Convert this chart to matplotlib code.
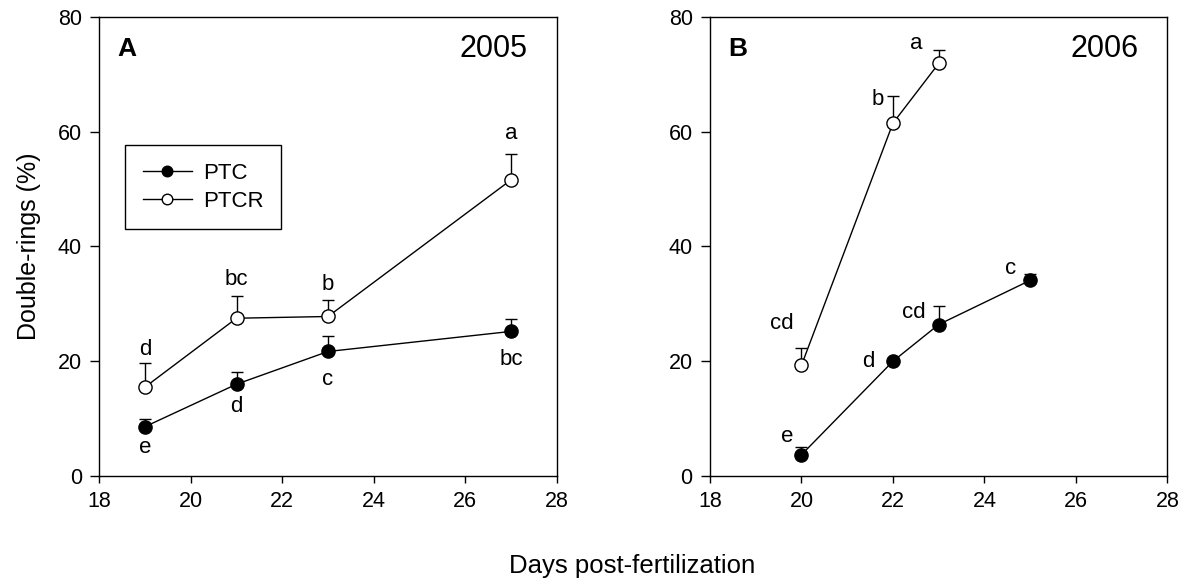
import matplotlib
matplotlib.use("Agg")
import matplotlib.pyplot as plt
import numpy as np

plt.rcParams['font.family'] = ['Liberation Sans', 'DejaVu Sans']

# 2005 data
days_2005 = [19, 21, 23, 27]
ptc_2005 = [8.6, 16.0, 21.7, 25.2]
ptc_err_2005 = [1.3, 2.1, 2.7, 2.1]
ptcr_2005 = [15.5, 27.5, 27.8, 51.6]
ptcr_err_2005 = [4.2, 3.9, 2.9, 4.6]
ptc_letters_2005 = ['e', 'd', 'c', 'bc']
ptcr_letters_2005 = ['d', 'bc', 'b', 'a']

# 2006 data
days_ptc_2006 = [20, 22, 23, 25]
ptc_2006 = [3.7, 20.0, 26.4, 34.1]
ptc_err_2006 = [1.3, 0.6, 3.2, 1.1]
days_ptcr_2006 = [20, 22, 23]
ptcr_2006 = [19.3, 61.5, 71.9]
ptcr_err_2006 = [3.0, 4.7, 2.4]
ptc_letters_2006 = ['e', 'd', 'cd', 'c']
ptcr_letters_2006 = ['cd', 'b', 'a']

W, H = 1188, 582
fig = plt.figure(figsize=(W / 100, H / 100), dpi=100)
axA = fig.add_axes([99.3 / W, 1 - 476 / H, 457.4 / W, 459 / H])
axB = fig.add_axes([710 / W, 1 - 476 / H, 457.4 / W, 459 / H])


def draw_series(ax, x, y, err, filled, label=None):
    x = np.asarray(x)
    y = np.asarray(y)
    ax.errorbar(x, y, yerr=[np.zeros_like(y), err], fmt='none', ecolor='black',
                elinewidth=1.0, capsize=4.5, capthick=1.0)
    ax.plot(x, y, '-o', color='black', lw=1.0, markersize=9.5,
            markeredgecolor='black', markeredgewidth=1.0,
            markerfacecolor='black' if filled else 'white', label=label)


def put_letters(ax, x, y, letters, offsets):
    for xi, yi, t, (dx, dy) in zip(x, y, letters, offsets):
        ax.annotate(t, (xi, yi), xytext=(dx, dy), textcoords='offset pixels',
                    ha='center', va='center', fontsize=16)


# Panel A
draw_series(axA, days_2005, ptc_2005, ptc_err_2005, True, 'PTC')
draw_series(axA, days_2005, ptcr_2005, ptcr_err_2005, False, 'PTCR')
put_letters(axA, days_2005, np.add(ptcr_2005, ptcr_err_2005), ptcr_letters_2005,
            [(0, 13), (0, 16), (0, 15), (0, 20)])
put_letters(axA, days_2005, ptc_2005, ptc_letters_2005,
            [(0, -21), (0, -22), (0, -28), (0, -28)])

# Panel B
draw_series(axB, days_ptc_2006, ptc_2006, ptc_err_2006, True)
draw_series(axB, days_ptcr_2006, ptcr_2006, ptcr_err_2006, False)
put_letters(axB, days_ptcr_2006, ptcr_2006, ptcr_letters_2006,
            [(-20, 42), (-15, 24), (-22, 20)])
put_letters(axB, days_ptc_2006, ptc_2006, ptc_letters_2006,
            [(-14, 18), (-25, 0), (-25, 12), (-20, 12)])

for ax, tag, year in [(axA, 'A', '2005'), (axB, 'B', '2006')]:
    ax.set_xlim(18, 28)
    ax.set_ylim(0, 80)
    ax.set_xticks(np.arange(18, 29, 2))
    ax.set_yticks(np.arange(0, 81, 20))
    ax.tick_params(axis='both', direction='out', labelsize=15.5, width=1.0)
    ax.tick_params(axis='y', length=6.5, pad=6)
    ax.tick_params(axis='x', length=5, pad=6)
    for s in ax.spines.values():
        s.set_linewidth(1.0)
    ax.text(0.04, 0.93, tag, transform=ax.transAxes, fontsize=19,
            fontweight='bold', ha='left', va='center')
    ax.text(0.937, 0.93, year, transform=ax.transAxes, fontsize=22,
            ha='right', va='center')

axA.set_ylabel('Double-rings (%)', fontsize=18, labelpad=12)
fig.text(632 / W, 1 - 566 / H, 'Days post-fertilization', fontsize=18.5,
         ha='center', va='center')

leg = axA.legend(loc='upper left', bbox_to_anchor=(0.056, 0.721), fontsize=16,
                 frameon=True, fancybox=False, edgecolor='black', framealpha=1,
                 handlelength=2.2, borderpad=0.8, labelspacing=0.3,
                 handletextpad=0.5, borderaxespad=0, markerscale=0.8)
leg.get_frame().set_linewidth(1.0)

fig.savefig('out.png', dpi=100)
